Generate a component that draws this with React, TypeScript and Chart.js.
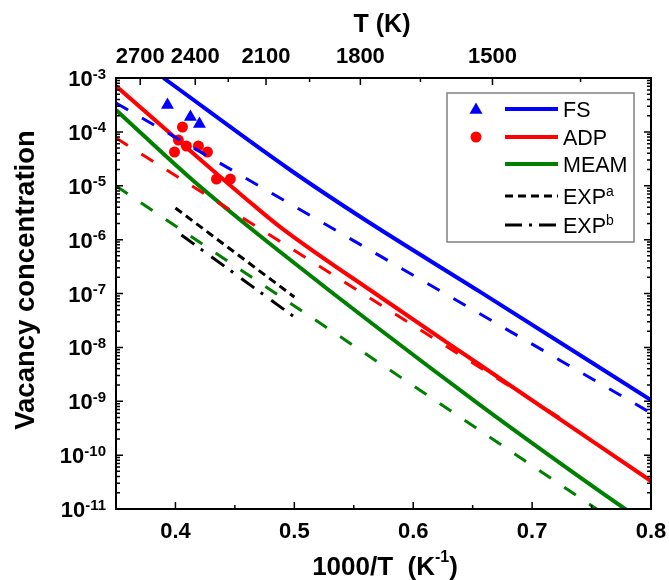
import React, { useEffect, useRef } from "react";
import { Chart, registerables } from "chart.js";

Chart.register(...registerables);

// ---------- axes ----------
const X_MIN = 0.35;
const X_MAX = 0.8;
const Y_MIN = 1e-11;
const Y_MAX = 1e-3;
const xMajorTicks = [0.4, 0.5, 0.6, 0.7, 0.8];
const xMinorTicks = [0.45, 0.55, 0.65, 0.75];
const tempMajorTicks = [2700, 2400, 2100, 1800, 1500];
const tempMinorTicks = [2250, 1950, 1650, 1350];
const yDecadeExps = [-3, -4, -5, -6, -7, -8, -9, -10, -11];

// ---------- data (x = 1000/T, y = vacancy concentration) ----------
const fsSolidX = [0.3899, 0.4966, 0.5597, 0.6563, 0.8];
const fsSolidY = [1.0e-3, 1.96e-5, 2.31e-6, 1.07e-7, 1.05e-9];
const fsDashX = [0.35, 0.8];
const fsDashY = [3.44e-4, 6.05e-10];

const adpSolidX = [0.35, 0.4605, 0.4882, 0.5723, 0.6563, 0.8];
const adpSolidY = [7.11e-4, 5.45e-6, 1.71e-6, 8.61e-8, 4.71e-9, 3.31e-11];
const adpDashX = [0.35, 0.7235];
const adpDashY = [7.69e-5, 4.89e-10];

const meamSolidX = [0.35, 0.4143, 0.4882, 0.6563, 0.7782, 0.8];
const meamSolidY = [2.55e-4, 1.28e-5, 5.89e-7, 8.51e-10, 1.0e-11, 4.68e-12];
const meamDashX = [0.35, 0.8];
const meamDashY = [9.89e-6, 2.1e-12];

const expAX = [0.4, 0.5];
const expAY = [3.86e-6, 8.61e-8];
const expBX = [0.405, 0.5];
const expBY = [1.22e-6, 3.66e-8];

const fsPointsX = [0.3933, 0.4126, 0.4202];
const fsPointsY = [3.15e-4, 1.89e-4, 1.4e-4];
const adpPointsX = [0.3992, 0.4025, 0.4059, 0.4092, 0.4193, 0.4269, 0.4345, 0.4462];
const adpPointsY = [4.23e-5, 7.06e-5, 1.23e-4, 5.47e-5, 5.47e-5, 4.23e-5, 1.33e-5, 1.33e-5];

const legendLabels = ["FS", "ADP", "MEAM", "EXP", "EXP"];
const legendSups = ["", "", "", "a", "b"];

const BLUE = "#0000ff";
const RED = "#ff0000";
const GREEN = "#008000";
const BLACK = "#000000";
const FONT = '"Liberation Sans", Arial, Helvetica, sans-serif';

const pts = (xs: number[], ys: number[]) => xs.map((x, i) => ({ x, y: ys[i] }));

type Part = { t: string; size: number; bold: boolean; dy: number };

function drawRich(ctx: CanvasRenderingContext2D, parts: Part[], x: number, y: number, align: "left" | "center" | "right") {
  const widths: number[] = [];
  let total = 0;
  for (const p of parts) {
    ctx.font = `${p.bold ? "bold " : ""}${p.size}px ${FONT}`;
    const w = ctx.measureText(p.t).width;
    widths.push(w);
    total += w;
  }
  let cx = align === "left" ? x : align === "center" ? x - total / 2 : x - total;
  ctx.textAlign = "left";
  ctx.textBaseline = "alphabetic";
  parts.forEach((p, i) => {
    ctx.font = `${p.bold ? "bold " : ""}${p.size}px ${FONT}`;
    ctx.fillText(p.t, cx, y + p.dy);
    cx += widths[i];
  });
}

const axesPlugin = {
  id: "customAxes",
  afterDraw(chart: any) {
    const ctx: CanvasRenderingContext2D = chart.ctx;
    const { left, right, top, bottom } = chart.chartArea;
    const xs = chart.scales.x;
    const ys = chart.scales.y;
    ctx.save();
    ctx.fillStyle = BLACK;
    ctx.strokeStyle = BLACK;

    // ticks
    const majorLen = 7;
    const minorLen = 4;
    ctx.lineWidth = 1.5;
    ctx.beginPath();
    const vTick = (px: number, len: number) => {
      ctx.moveTo(px, bottom);
      ctx.lineTo(px, bottom - len);
    };
    const topTick = (px: number, len: number) => {
      ctx.moveTo(px, top);
      ctx.lineTo(px, top + len);
    };
    const hTick = (py: number, len: number) => {
      ctx.moveTo(left, py);
      ctx.lineTo(left + len, py);
      ctx.moveTo(right, py);
      ctx.lineTo(right - len, py);
    };
    xMajorTicks.forEach((v) => vTick(xs.getPixelForValue(v), majorLen));
    xMinorTicks.forEach((v) => vTick(xs.getPixelForValue(v), minorLen));
    tempMajorTicks.forEach((t) => topTick(xs.getPixelForValue(1000 / t), majorLen));
    tempMinorTicks.forEach((t) => topTick(xs.getPixelForValue(1000 / t), minorLen));
    yDecadeExps.forEach((e) => {
      hTick(ys.getPixelForValue(Math.pow(10, e)), majorLen);
      if (e < -3) {
        for (let m = 2; m <= 9; m++) hTick(ys.getPixelForValue(m * Math.pow(10, e)), minorLen);
      }
    });
    ctx.stroke();

    // frame
    ctx.lineWidth = 2;
    ctx.strokeRect(left, top, right - left, bottom - top);

    // bottom tick labels
    ctx.font = `bold 22px ${FONT}`;
    ctx.textAlign = "center";
    ctx.textBaseline = "alphabetic";
    xMajorTicks.forEach((v) => ctx.fillText(v.toFixed(1), xs.getPixelForValue(v), 538));
    // top tick labels
    tempMajorTicks.forEach((t) => ctx.fillText(String(t), xs.getPixelForValue(1000 / t), 63));

    // y tick labels
    yDecadeExps.forEach((e) => {
      const py = ys.getPixelForValue(Math.pow(10, e));
      drawRich(
        ctx,
        [
          { t: "10", size: 22, bold: true, dy: 0 },
          { t: String(e), size: 15, bold: true, dy: -7.5 },
        ],
        106,
        py + 8,
        "right"
      );
    });

    // titles
    drawRich(
      ctx,
      [
        { t: "1000/T  (K", size: 26, bold: true, dy: 0 },
        { t: "-1", size: 16, bold: true, dy: -13 },
        { t: ")", size: 26, bold: true, dy: 0 },
      ],
      385,
      575,
      "center"
    );
    ctx.font = `bold 25px ${FONT}`;
    ctx.textAlign = "center";
    ctx.fillText("T (K)", 382, 32);

    ctx.save();
    ctx.translate(26, 280);
    ctx.rotate(-Math.PI / 2);
    ctx.font = `bold 27.5px ${FONT}`;
    ctx.textAlign = "center";
    ctx.textBaseline = "middle";
    ctx.fillText("Vacancy concentration", 0, 0);
    ctx.restore();

    // legend
    const lx = 447, ly = 93, lw = 187, lh = 149;
    ctx.fillStyle = "#ffffff";
    ctx.fillRect(lx, ly, lw, lh);
    ctx.strokeStyle = "#808080";
    ctx.lineWidth = 1.5;
    ctx.strokeRect(lx, ly, lw, lh);
    const rows = [109, 137, 164, 196, 225];
    const lineStyles = [
      { c: BLUE, w: 4, d: [] as number[] },
      { c: RED, w: 4, d: [] as number[] },
      { c: GREEN, w: 4, d: [] as number[] },
      { c: BLACK, w: 3, d: [8, 5] },
      { c: BLACK, w: 3, d: [17, 7, 3, 7] },
    ];
    rows.forEach((ry, i) => {
      const s = lineStyles[i];
      ctx.strokeStyle = s.c;
      ctx.lineWidth = s.w;
      ctx.setLineDash(s.d);
      ctx.beginPath();
      ctx.moveTo(505, ry);
      ctx.lineTo(558, ry);
      ctx.stroke();
      ctx.setLineDash([]);
      ctx.fillStyle = BLACK;
      const parts: Part[] = [{ t: legendLabels[i], size: 21.5, bold: false, dy: 0 }];
      if (legendSups[i]) parts.push({ t: legendSups[i], size: 14, bold: false, dy: -8 });
      drawRich(ctx, parts, 563, ry + 7.5, "left");
    });
    // legend markers
    ctx.fillStyle = BLUE;
    const r = 7.5;
    const mx = 476;
    const my = rows[0] + 1;
    ctx.beginPath();
    ctx.moveTo(mx, my - r);
    ctx.lineTo(mx + r * Math.sin(Math.PI / 3), my + r / 2);
    ctx.lineTo(mx - r * Math.sin(Math.PI / 3), my + r / 2);
    ctx.closePath();
    ctx.fill();
    ctx.fillStyle = RED;
    ctx.beginPath();
    ctx.arc(mx, rows[1], 5.5, 0, Math.PI * 2);
    ctx.fill();

    ctx.restore();
  },
};

export default function App() {
  const canvasRef = useRef<HTMLCanvasElement | null>(null);

  useEffect(() => {
    const canvas = canvasRef.current;
    if (!canvas) return;
    const line = (data: any, color: string, width: number, dash: number[], extra: any = {}) => ({
      data,
      borderColor: color,
      backgroundColor: color,
      borderWidth: width,
      borderDash: dash,
      borderCapStyle: "butt",
      pointRadius: 0,
      pointHoverRadius: 0,
      fill: false,
      showLine: true,
      clip: 0,
      ...extra,
    });
    const chart = new Chart(canvas, {
      type: "line",
      data: {
        datasets: [
          line(pts(fsDashX, fsDashY), BLUE, 3, [14, 16]),
          line(pts(adpDashX, adpDashY), RED, 3, [14, 16]),
          line(pts(meamDashX, meamDashY), GREEN, 3, [14, 16]),
          line(pts(fsSolidX, fsSolidY), BLUE, 4, [], { cubicInterpolationMode: "monotone" }),
          line(pts(adpSolidX, adpSolidY), RED, 4, [], { cubicInterpolationMode: "monotone" }),
          line(pts(meamSolidX, meamSolidY), GREEN, 4, [], { cubicInterpolationMode: "monotone" }),
          line(pts(expAX, expAY), BLACK, 3, [8, 5]),
          line(pts(expBX, expBY), BLACK, 3, [16, 8, 3, 10]),
          {
            data: pts(fsPointsX, fsPointsY),
            showLine: false,
            pointStyle: "triangle",
            pointRadius: 7.5,
            pointHoverRadius: 7.5,
            backgroundColor: BLUE,
            borderColor: BLUE,
            borderWidth: 0,
          },
          {
            data: pts(adpPointsX, adpPointsY),
            showLine: false,
            pointStyle: "circle",
            pointRadius: 5.5,
            pointHoverRadius: 5.5,
            backgroundColor: RED,
            borderColor: RED,
            borderWidth: 0,
          },
        ] as any,
      },
      options: {
        animation: false,
        responsive: false,
        devicePixelRatio: 1,
        events: [],
        layout: { padding: { left: 116, right: 18, top: 78, bottom: 71 } },
        plugins: { legend: { display: false }, tooltip: { enabled: false } },
        scales: {
          x: { type: "linear", min: X_MIN, max: X_MAX, display: false },
          y: { type: "logarithmic", min: Y_MIN, max: Y_MAX, display: false },
        },
      },
      plugins: [axesPlugin],
    });
    return () => chart.destroy();
  }, []);

  return (
    <div style={{ position: "absolute", left: 0, top: 0, width: 669, height: 580, background: "#fff" }}>
      <canvas ref={canvasRef} width={669} height={580} style={{ display: "block", width: 669, height: 580 }} />
    </div>
  );
}
